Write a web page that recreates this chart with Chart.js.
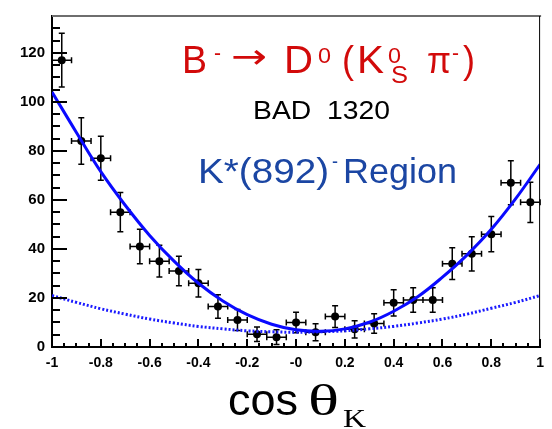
<!DOCTYPE html>
<html lang="en">
<head>
<meta charset="UTF-8">
<title>cos theta K</title>
<script src="https://cdn.jsdelivr.net/npm/chart.js"></script>
<style>
  body { margin: 0; background: #fff; }
  canvas { display: block; }
</style>
</head>
<body>
<canvas id="chart" width="552" height="429"></canvas>
<script>
// measured bins (centre, count, error)
const binX = [-0.96, -0.88, -0.80, -0.72, -0.64, -0.56, -0.48, -0.40, -0.32, -0.24, -0.16, -0.08,
              0.00, 0.08, 0.16, 0.24, 0.32, 0.40, 0.48, 0.56, 0.64, 0.72, 0.80, 0.88, 0.96];
const counts = [117, 84, 77, 55, 41, 35, 31, 26, 16.5, 11, 5.2, 4, 10, 6, 12.4, 7.2, 9.6, 18, 19.2, 19.2, 34, 38, 46, 67, 59];
const countErr = [11, 9.5, 9, 8, 7, 6.5, 6, 5.6, 4.8, 4.3, 3, 3, 4.2, 3.5, 4.4, 3.5, 4, 5.4, 5, 5, 6.5, 7, 7.2, 9, 8.2];
const binHalf = 0.04;

// fit curves every 0.1
const curveX = [-1, -0.9, -0.8, -0.7, -0.6, -0.5, -0.4, -0.3, -0.2, -0.1, 0, 0.1, 0.2, 0.3, 0.4, 0.5, 0.6, 0.7, 0.8, 0.9, 1];
const fitTotal = [104, 87.5, 71.5, 57.8, 45.5, 35, 26, 18.8, 13.2, 9.3, 7, 6.4, 7.4, 10.1, 14.6, 20.6, 28.5, 37.5, 48, 60.5, 74.5];
const fitBkg = [21, 18.2, 15.6, 13.4, 11.4, 9.8, 8.4, 7.4, 6.6, 6.2, 6, 6.2, 6.6, 7.4, 8.4, 9.8, 11.4, 13.4, 15.8, 18.2, 21];

const xTicks = [-1, -0.8, -0.6, -0.4, -0.2, 0, 0.2, 0.4, 0.6, 0.8, 1];
const xTickLabels = ['-1', '-0.8', '-0.6', '-0.4', '-0.2', '-0', '0.2', '0.4', '0.6', '0.8', '1'];
const yTicks = [0, 20, 40, 60, 80, 100, 120];
const xMinorStep = 0.05;
const yMinorStep = 5;

const sans = '"Liberation Sans", Arial, sans-serif';
const serif = '"Liberation Serif", "Times New Roman", serif';

// text helper; w = width to squeeze/stretch the glyphs to
function put(ctx, str, x, y, font, color, w) {
    ctx.save();
    ctx.font = font;
    ctx.fillStyle = color;
    ctx.textAlign = 'left';
    ctx.textBaseline = 'alphabetic';
    ctx.translate(x, y);
    if (w) ctx.scale(w / ctx.measureText(str).width, 1);
    ctx.fillText(str, 0, 0);
    ctx.restore();
}

// error bars under the markers
const errorBars = {
    id: 'errorBars',
    beforeDatasetsDraw(chart) {
        const {ctx, scales: {x, y}} = chart;
        ctx.save();
        ctx.strokeStyle = '#000';
        ctx.lineWidth = 1.5;
        ctx.beginPath();
        binX.forEach((bx, i) => {
            const px = x.getPixelForValue(bx);
            const py = y.getPixelForValue(counts[i]);
            const top = y.getPixelForValue(counts[i] + countErr[i]);
            const bot = y.getPixelForValue(Math.max(counts[i] - countErr[i], 0));
            const l = x.getPixelForValue(bx - binHalf);
            const r = x.getPixelForValue(bx + binHalf);
            ctx.moveTo(px, top); ctx.lineTo(px, bot);
            ctx.moveTo(px - 3, top); ctx.lineTo(px + 3, top);
            ctx.moveTo(px - 3, bot); ctx.lineTo(px + 3, bot);
            ctx.moveTo(l, py); ctx.lineTo(r, py);
            ctx.moveTo(l, py - 3); ctx.lineTo(l, py + 3);
            ctx.moveTo(r, py - 3); ctx.lineTo(r, py + 3);
        });
        ctx.stroke();
        ctx.restore();
    }
};

// ROOT style frame: ticks pointing inwards, top and right edges
const frame = {
    id: 'frame',
    afterDatasetsDraw(chart) {
        const {ctx, chartArea: a, scales: {x, y}} = chart;
        ctx.save();
        ctx.strokeStyle = '#000';
        ctx.lineWidth = 2;
        ctx.beginPath();
        const nx = Math.round((x.max - x.min) / xMinorStep);
        for (let k = 0; k <= nx; k++) {
            const v = x.min + k * xMinorStep;
            const major = xTicks.some(t => Math.abs(t - v) < 1e-6);
            const px = Math.round(x.getPixelForValue(v));
            ctx.moveTo(px, a.bottom);
            ctx.lineTo(px, a.bottom - (major ? 8 : 4));
        }
        for (let v = 0; v <= y.max; v += yMinorStep) {
            const major = yTicks.includes(v);
            const py = Math.round(y.getPixelForValue(v));
            ctx.moveTo(a.left, py);
            ctx.lineTo(a.left + (major ? 15 : 8), py);
        }
        ctx.stroke();

        ctx.strokeStyle = '#6e6e6e';
        ctx.beginPath();
        ctx.moveTo(a.left, a.top);
        ctx.lineTo(a.right + 1, a.top);
        ctx.stroke();
        ctx.strokeStyle = '#000';
        ctx.lineWidth = 1;
        ctx.beginPath();
        ctx.moveTo(a.right - 0.5, a.top);
        ctx.lineTo(a.right - 0.5, a.bottom);
        ctx.stroke();
        ctx.restore();
    },
    afterDraw(chart) {
        const ctx = chart.ctx;
        const red = '#d20a0a';
        const blue = '#1b46a3';
        // decay label
        put(ctx, 'B', 182, 73, '38px ' + sans, red, 25);
        put(ctx, '-', 214, 60, '22px ' + sans, red, 7);
        put(ctx, '\u2192', 231, 68, '34px "DejaVu Sans", sans-serif', red, 36);
        put(ctx, 'D', 284, 73, '38px ' + sans, red, 29);
        put(ctx, '0', 318, 63, '22px ' + sans, red, 13);
        put(ctx, '(', 342, 73, '38px ' + sans, red, 12);
        put(ctx, 'K', 357, 73, '38px ' + sans, red, 27);
        put(ctx, '0', 388, 63, '22px ' + sans, red, 13);
        put(ctx, 'S', 391, 83, '24px ' + sans, red, 17);
        put(ctx, '\u03c0', 427, 73, '36px ' + sans, red, 24);
        put(ctx, '-', 452, 60, '22px ' + sans, red, 7);
        put(ctx, ')', 463, 73, '38px ' + sans, red, 12);

        put(ctx, 'BAD  1320', 253, 119, '25px ' + sans, '#000', 137);

        put(ctx, 'K*(892)', 198, 183, '35px ' + sans, blue, 131);
        put(ctx, '-', 332, 168, '20px ' + sans, blue, 6);
        put(ctx, 'Region', 343, 183, '35px ' + sans, blue, 114);

        // axis title
        put(ctx, 'cos', 228, 415, '45px ' + sans, '#000', 70);
        put(ctx, '\u03b8', 308, 415, '44px ' + serif, '#000', 31);
        put(ctx, 'K', 343, 427, '26px ' + serif, '#000', 23);
    }
};

const ctx = document.getElementById('chart');
new Chart(ctx, {
    type: 'scatter',
    data: {
        datasets: [
            {
                type: 'line',
                label: 'fit',
                data: curveX.map((v, i) => ({x: v, y: fitTotal[i]})),
                borderColor: '#0a0aff',
                borderWidth: 3,
                pointRadius: 0,
                tension: 0.4,
                fill: false
            },
            {
                type: 'line',
                label: 'background',
                data: curveX.map((v, i) => ({x: v, y: fitBkg[i]})),
                borderColor: '#1a1aff',
                borderWidth: 3,
                borderDash: [2, 2],
                pointRadius: 0,
                tension: 0.4,
                fill: false
            },
            {
                label: 'data',
                data: binX.map((v, i) => ({x: v, y: counts[i]})),
                pointRadius: 4,
                pointBackgroundColor: '#000',
                pointBorderColor: '#000',
                pointBorderWidth: 0
            }
        ]
    },
    options: {
        responsive: false,
        animation: false,
        devicePixelRatio: 1,
        layout: { padding: { top: 10, right: 1, left: 0, bottom: 0 } },
        plugins: { legend: { display: false }, tooltip: { enabled: false } },
        scales: {
            x: {
                type: 'linear',
                min: -1,
                max: 1,
                afterBuildTicks: s => { s.ticks = xTicks.map(v => ({value: v})); },
                afterFit: s => { s.height = 82; },
                grid: { display: false, drawTicks: false },
                border: { display: true, color: '#000', width: 2 },
                ticks: {
                    padding: 8,
                    maxRotation: 0,
                    autoSkip: false,
                    color: '#000',
                    font: { family: sans, size: 14, weight: 'bold' },
                    callback: (v, i) => xTickLabels[i]
                }
            },
            y: {
                type: 'linear',
                min: 0,
                max: 135,
                afterBuildTicks: s => { s.ticks = yTicks.map(v => ({value: v})); },
                afterFit: s => { s.width = 52; },
                grid: { display: false, drawTicks: false },
                border: { display: true, color: '#000', width: 2 },
                ticks: {
                    padding: 7,
                    color: '#000',
                    font: { family: sans, size: 15, weight: 'bold' }
                }
            }
        }
    },
    plugins: [errorBars, frame]
});
</script>
</body>
</html>
